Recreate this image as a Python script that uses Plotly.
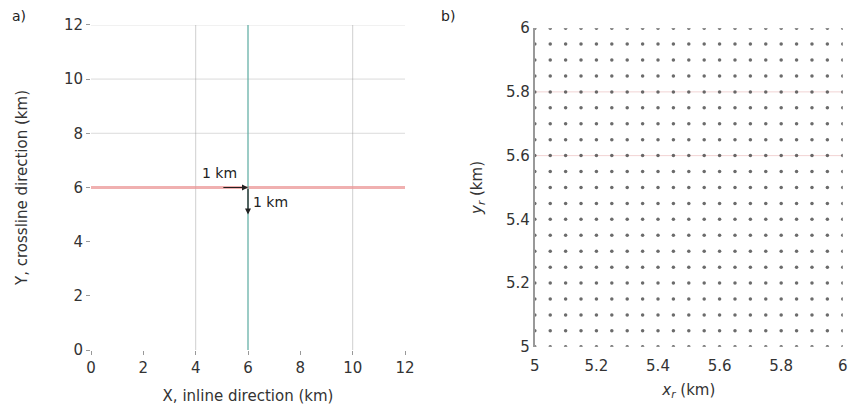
import plotly.graph_objects as go
import numpy as np

# Panel a data
xticks_a = [0, 2, 4, 6, 8, 10, 12]
yticks_a = [0, 2, 4, 6, 8, 10, 12]
gray_vlines = [4, 10]          # faint vertical survey lines (km)
gray_hlines = [8, 10, 12]      # faint horizontal survey lines (km)
source_line_x = 6              # teal vertical line
receiver_line_y = 6            # pink horizontal line
line_extent = [0, 12]

# Panel b data: receiver grid
grid_x = [round(5 + 0.05 * i, 2) for i in range(21)]
grid_y = [round(5 + 0.05 * j, 2) for j in range(21)]
xticks_b = [5, 5.2, 5.4, 5.6, 5.8, 6]
yticks_b = [5, 5.2, 5.4, 5.6, 5.8, 6]
faint_hlines_b = [5.6, 5.8]

fig = go.Figure()

for v in gray_vlines:
    fig.add_trace(go.Scatter(x=[v, v], y=line_extent, mode="lines",
                             line=dict(color="rgba(150,150,150,0.45)", width=1),
                             xaxis="x", yaxis="y", showlegend=False, hoverinfo="skip"))
for h in gray_hlines:
    fig.add_trace(go.Scatter(x=line_extent, y=[h, h], mode="lines",
                             line=dict(color="rgba(150,150,150,0.35)", width=1),
                             xaxis="x", yaxis="y", showlegend=False, hoverinfo="skip"))
fig.add_trace(go.Scatter(x=line_extent, y=[receiver_line_y, receiver_line_y], mode="lines",
                         line=dict(color="rgba(235,150,150,0.75)", width=3),
                         xaxis="x", yaxis="y", showlegend=False, hoverinfo="skip"))
fig.add_trace(go.Scatter(x=[source_line_x, source_line_x], y=line_extent, mode="lines",
                         line=dict(color="rgba(90,170,160,0.8)", width=1.5),
                         xaxis="x", yaxis="y", showlegend=False, hoverinfo="skip"))

for h in faint_hlines_b:
    fig.add_trace(go.Scatter(x=[5, 6], y=[h, h], mode="lines",
                             line=dict(color="rgba(230,170,170,0.5)", width=1),
                             xaxis="x2", yaxis="y2", showlegend=False, hoverinfo="skip"))

# Panel b grid of points
gx, gy = np.meshgrid(grid_x, grid_y)
fig.add_trace(go.Scatter(x=gx.ravel(), y=gy.ravel(), mode="markers",
                         marker=dict(color="rgba(70,70,70,0.8)", size=3.5),
                         xaxis="x2", yaxis="y2", showlegend=False, hoverinfo="skip"))

font = "DejaVu Sans"
tickfont = dict(family=font, size=15, color="#333")
titlefont = dict(family=font, size=15, color="#333")
fig.update_layout(
    width=853, height=408,
    margin=dict(l=0, r=0, t=0, b=0),
    paper_bgcolor="white", plot_bgcolor="white",
    font=dict(family=font, size=14, color="#333"),
    xaxis=dict(domain=[0.1067, 0.4748], range=[0, 12], tickvals=xticks_a,
               showgrid=False, zeroline=False, showline=False, ticks="outside",
               ticklen=4, tickcolor="#999", tickfont=tickfont, automargin=False,
               title=dict(text="X, inline direction (km)", standoff=14, font=titlefont), anchor="y"),
    yaxis=dict(domain=[0.142, 0.939], range=[0, 12], tickvals=yticks_a,
               showgrid=False, zeroline=False, showline=False, ticks="outside",
               ticklen=4, tickcolor="#999", tickfont=tickfont, automargin=False,
               title=dict(text="Y, crossline direction (km)", standoff=32, font=titlefont), anchor="x"),
    xaxis2=dict(domain=[0.627, 0.988], range=[5, 6], tickvals=xticks_b,
                ticktext=["5", "5.2", "5.4", "5.6", "5.8", "6"],
                showgrid=False, zeroline=False, showline=False, ticks="",
                ticklabelstandoff=8,
                tickfont=tickfont, automargin=False,
                title=dict(text="<i>x<sub>r</sub></i> (km)", standoff=10, font=titlefont), anchor="y2"),
    yaxis2=dict(domain=[0.150, 0.931], range=[5, 6], tickvals=yticks_b,
                ticktext=["5", "5.2", "5.4", "5.6", "5.8", "6"],
                showgrid=False, zeroline=False, showline=True, linecolor="#999",
                linewidth=2, ticks="", tickfont=tickfont, automargin=False,
                title=dict(text="<i>y<sub>r</sub></i> (km)", standoff=20, font=titlefont), anchor="x2"),
    annotations=[
        dict(x=6, y=6, ax=5, ay=6, xref="x", yref="y", axref="x", ayref="y",
             showarrow=True, arrowhead=2, arrowsize=1, arrowwidth=1.2, arrowcolor="#222", text=""),
        dict(x=6, y=5, ax=6, ay=6, xref="x", yref="y", axref="x", ayref="y",
             showarrow=True, arrowhead=2, arrowsize=1, arrowwidth=1.2, arrowcolor="#222", text=""),
        dict(x=4.9, y=6.15, xref="x", yref="y", text="1 km", showarrow=False,
             yanchor="bottom", font=dict(size=14, color="#222")),
        dict(x=6.1, y=5.45, xref="x", yref="y", text="1 km", showarrow=False,
             xanchor="left", font=dict(size=14, color="#222")),
        dict(x=0.012, y=0.985, xref="paper", yref="paper", text="a)", showarrow=False,
             xanchor="left", yanchor="top", font=dict(size=14, color="#222")),
        dict(x=0.515, y=0.985, xref="paper", yref="paper", text="b)", showarrow=False,
             xanchor="left", yanchor="top", font=dict(size=14, color="#222")),
    ],
)

fig.write_html("out.html")
